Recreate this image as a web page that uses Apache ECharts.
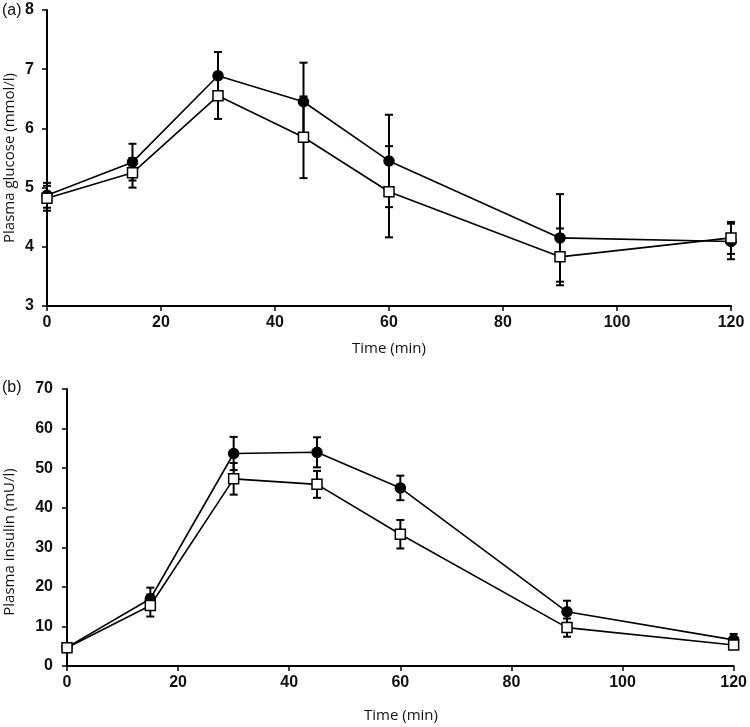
<!DOCTYPE html>
<html>
<head>
<meta charset="utf-8">
<script src="https://cdn.jsdelivr.net/npm/echarts@6/dist/echarts.min.js"></script>
<style>
html,body{margin:0;padding:0;background:#fff;}
#chart{width:750px;height:727px;}
</style>
</head>
<body>
<div id="chart"></div>
<script>
// ---- data ----
const time = [0, 15, 30, 45, 60, 90, 120];
const xTicks = [0, 20, 40, 60, 80, 100, 120];

const glucoseFilled = [4.87, 5.43, 6.89, 6.45, 5.45, 4.15, 4.09];
const glucoseFilledErr = [0.21, 0.31, 0.40, 0.66, 0.78, 0.74, 0.30];
const glucoseOpen = [4.82, 5.25, 6.55, 5.85, 4.93, 3.83, 4.15];
const glucoseOpenErr = [0.21, 0.25, 0.39, 0.69, 0.77, 0.48, 0.27];

const insulinFilled = [4.7, 17.0, 53.7, 54.0, 45.0, 13.7, 6.6];
const insulinFilledErr = [0.8, 2.8, 4.2, 3.8, 3.1, 2.8, 1.5];
const insulinOpen = [4.6, 15.3, 47.3, 45.9, 33.3, 9.7, 5.3];
const insulinOpenErr = [0.8, 2.8, 4.0, 3.4, 3.6, 2.3, 1.0];

const glucoseTicks = [3, 4, 5, 6, 7, 8];
const insulinTicks = [0, 10, 20, 30, 40, 50, 60, 70];

// ---- helpers ----
function pts(v) { return time.map((t, i) => [t, v[i]]); }
function errs(v, e) { return time.map((t, i) => [t, v[i] - e[i], v[i] + e[i]]); }

function renderErr(params, api) {
  const x = api.value(0);
  const lo = api.coord([x, api.value(1)]);
  const hi = api.coord([x, api.value(2)]);
  const w = 4;
  const style = { stroke: '#000', lineWidth: 2 };
  return {
    type: 'group',
    children: [
      { type: 'line', shape: { x1: lo[0], y1: lo[1], x2: hi[0], y2: hi[1] }, style: style },
      { type: 'line', shape: { x1: hi[0] - w, y1: hi[1], x2: hi[0] + w, y2: hi[1] }, style: style },
      { type: 'line', shape: { x1: lo[0] - w, y1: lo[1], x2: lo[0] + w, y2: lo[1] }, style: style }
    ]
  };
}

const tickFont = { fontFamily: 'Liberation Sans, Arial, sans-serif', fontSize: 16, fontWeight: 'bold', color: '#111' };
const titleFont = { fontFamily: 'Open Sans, sans-serif', fontSize: 15, fill: '#111' };
const panelFont = { fontFamily: 'Liberation Sans, Arial, sans-serif', fontSize: 16, fill: '#111' };

function xAxisDef(gi) {
  return {
    type: 'value', gridIndex: gi, min: 0, max: 120, interval: 20,
    axisLine: { show: true, onZero: false, lineStyle: { color: '#000', width: 2 } },
    axisTick: { show: true, inside: false, length: 5, lineStyle: { color: '#000', width: 1.5 } },
    axisLabel: Object.assign({ margin: 9 }, tickFont),
    splitLine: { show: false }
  };
}
function yAxisDef(gi, min, max, interval, margin) {
  return {
    type: 'value', gridIndex: gi, min: min, max: max, interval: interval,
    axisLine: { show: true, lineStyle: { color: '#000', width: 2 } },
    axisTick: { show: true, inside: false, length: 5, lineStyle: { color: '#000', width: 1.5 } },
    axisLabel: Object.assign({ margin: margin }, tickFont),
    splitLine: { show: false }
  };
}

function lineSeries(xi, data, filled) {
  return {
    type: 'line', xAxisIndex: xi, yAxisIndex: xi, data: pts(data),
    symbol: filled ? 'circle' : 'rect', symbolSize: 10,
    showSymbol: true, clip: false, z: filled ? 3 : 4,
    lineStyle: { color: '#000', width: 1.6 },
    itemStyle: { color: filled ? '#000' : '#fff', borderColor: '#000', borderWidth: 1.5 },
    emphasis: { disabled: true }, animation: false
  };
}
function errSeries(xi, data, e) {
  return {
    type: 'custom', xAxisIndex: xi, yAxisIndex: xi, data: errs(data, e),
    renderItem: renderErr, clip: false, z: 2, animation: false
  };
}

const chart = echarts.init(document.getElementById('chart'), null, { renderer: 'canvas' });
chart.setOption({
  animation: false,
  backgroundColor: '#fff',
  grid: [
    { left: 47, right: 19, top: 10, height: 296 },
    { left: 67, right: 15, top: 389, height: 277 }
  ],
  xAxis: [xAxisDef(0), xAxisDef(1)],
  yAxis: [
    yAxisDef(0, glucoseTicks[0], glucoseTicks[glucoseTicks.length - 1], 1, 13),
    yAxisDef(1, insulinTicks[0], insulinTicks[insulinTicks.length - 1], 10, 14)
  ],
  series: [
    errSeries(0, glucoseFilled, glucoseFilledErr),
    errSeries(0, glucoseOpen, glucoseOpenErr),
    lineSeries(0, glucoseFilled, true),
    lineSeries(0, glucoseOpen, false),
    errSeries(1, insulinFilled, insulinFilledErr),
    errSeries(1, insulinOpen, insulinOpenErr),
    lineSeries(1, insulinFilled, true),
    lineSeries(1, insulinOpen, false)
  ],
  graphic: [
    { type: 'text', left: 2, top: 3, style: Object.assign({ text: '(a)' }, panelFont) },
    { type: 'text', left: 2, top: 380, style: Object.assign({ text: '(b)' }, panelFont) },
    { type: 'text', x: 10, y: 158, rotation: Math.PI / 2,
      style: Object.assign({ text: 'Plasma glucose (mmol/l)', align: 'center', verticalAlign: 'middle' }, titleFont) },
    { type: 'text', x: 10, y: 542, rotation: Math.PI / 2,
      style: Object.assign({ text: 'Plasma insulin (mU/l)', align: 'center', verticalAlign: 'middle' }, titleFont) },
    { type: 'text', x: 389, y: 349,
      style: Object.assign({ text: 'Time (min)', align: 'center', verticalAlign: 'middle' }, titleFont) },
    { type: 'text', x: 401, y: 716,
      style: Object.assign({ text: 'Time (min)', align: 'center', verticalAlign: 'middle' }, titleFont) }
  ]
});
</script>
</body>
</html>
